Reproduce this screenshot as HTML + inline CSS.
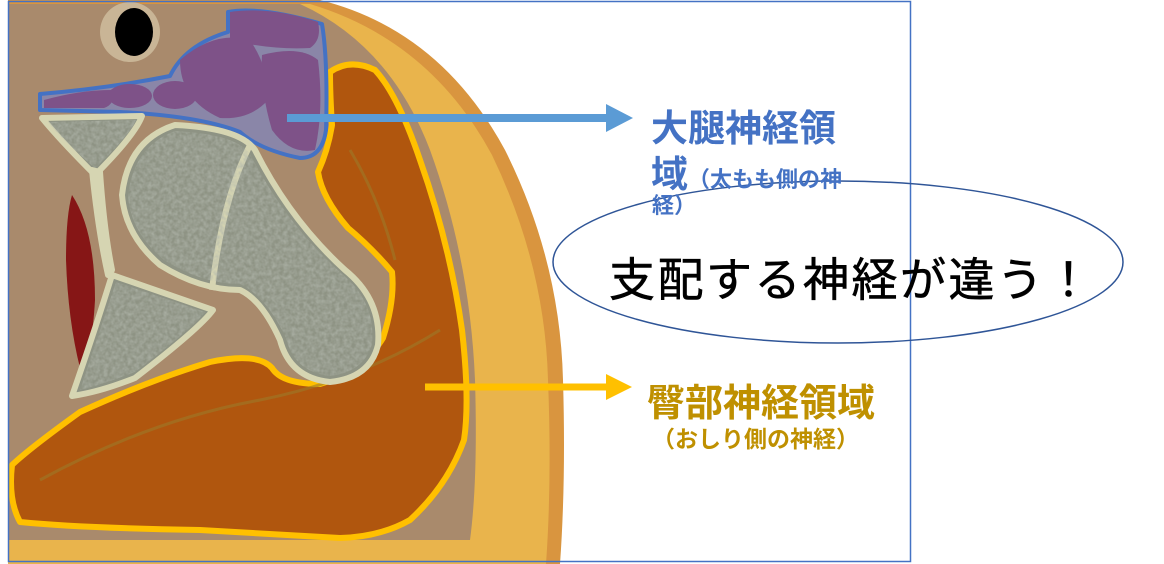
<!DOCTYPE html>
<html><head><meta charset="utf-8"><style>
html,body{margin:0;padding:0;background:#fff;}
body{width:1164px;height:564px;overflow:hidden;position:relative;font-family:"Liberation Sans","Noto Sans CJK JP",sans-serif;}
.t{position:absolute;white-space:nowrap;font-weight:bold;}
</style></head><body>
<svg width="1164" height="564" style="position:absolute;left:0;top:0">
<defs>
<filter id="n" x="0" y="0" width="100%" height="100%"><feTurbulence type="fractalNoise" baseFrequency="0.25" numOctaves="2" seed="3"/><feColorMatrix values="0 0 0 0 0.45  0 0 0 0 0.48  0 0 0 0 0.42  0 0 0 -1.6 1.2"/><feComposite in2="SourceGraphic" operator="in"/></filter>
</defs>
<path d="M8,0 L320,0 Q440,30 505,150 Q560,260 563,380 Q566,480 560,564 L8,564 Z" fill="#D9953F"/>
<path d="M8,4 L310,4 Q430,40 492,155 Q545,265 548,380 Q552,480 546,564 L8,564 Z" fill="#E9B44C"/>
<path d="M8,4 L300,4 Q390,45 430,150 Q470,260 475,380 Q478,480 470,540 L8,540 Z" fill="#A98A6C"/>
<ellipse cx="130" cy="32" rx="30" ry="30" fill="#C9B596"/>
<ellipse cx="134" cy="32" rx="19" ry="24" fill="#000"/>
<path d="M72,195 Q95,230 95,300 Q92,355 80,368 Q68,320 66,260 Q66,215 72,195 Z" fill="#861616"/>
<path d="M330,72 Q350,58 375,70 Q398,95 420,160 Q450,245 462,330 Q470,400 464,440 Q448,485 410,520 Q380,537 340,538 L200,530 Q80,528 20,522 Q8,500 12,465 Q30,448 80,412 Q150,380 210,362 Q258,352 272,368 Q282,384 320,384 Q362,372 383,338 Q395,300 392,272 Q372,248 348,228 Q322,198 318,172 Q328,150 332,125 Q330,95 330,72 Z" fill="#B0560E" stroke="#FFC000" stroke-width="6" stroke-linejoin="round"/>
<path d="M40,480 Q150,420 260,400 Q360,380 440,330" fill="none" stroke="#9C7A2A" stroke-width="3" opacity=".6"/>
<path d="M350,150 Q380,200 395,260" fill="none" stroke="#9C7A2A" stroke-width="3" opacity=".6"/>
<path d="M40,94 Q110,88 170,76 Q185,45 228,32 L228,12 Q260,6 322,24 Q328,60 326,130 Q322,158 300,158 Q260,150 240,132 Q200,116 120,112 L40,110 Z" fill="#8A86A8" stroke="#4472C4" stroke-width="4" stroke-linejoin="round"/>
<path d="M230,12 Q270,6 318,22 Q322,40 310,48 Q270,50 230,40 Z" fill="#7E5288"/>
<path d="M180,60 Q215,30 250,40 Q270,70 268,100 Q250,120 220,118 Q180,100 180,60 Z" fill="#7E5288"/>
<path d="M262,55 Q300,45 318,60 Q324,110 315,150 Q290,155 272,130 Q260,90 262,55 Z" fill="#7E5288"/>
<ellipse cx="175" cy="95" rx="22" ry="14" fill="#7E5288"/>
<ellipse cx="130" cy="96" rx="22" ry="12" fill="#7E5288"/>
<path d="M44,100 Q80,90 112,90 Q116,104 104,108 L44,108 Z" fill="#7E5288"/>
<g stroke="#D6D5B2" stroke-width="6" stroke-linejoin="round">
<path d="M42,118 L142,116 Q135,135 95,175 Q60,140 42,118 Z" fill="#8E9384"/>
<path d="M92,170 L100,172 Q104,230 112,270 L108,275 Q98,230 92,170 Z" fill="#D6D5B2"/>
<path d="M112,275 L213,310 Q200,328 135,378 Q100,392 72,396 Q95,330 112,275 Z" fill="#8E9384"/>
<path d="M175,125 Q240,128 255,150 Q290,220 345,270 Q382,300 378,345 Q370,378 330,382 Q290,378 280,340 Q262,300 240,290 Q200,290 160,265 Q125,235 122,195 Q128,140 175,125 Z" fill="#8E9384"/>
<path d="M250,145 Q222,200 212,290" fill="none"/>
</g>
<g filter="url(#n)" opacity=".7">
<path d="M48,122 L136,120 Q130,135 95,168 Q62,140 48,122 Z" fill="#fff"/>
<path d="M116,282 L205,312 Q195,326 135,372 Q104,384 80,390 Q100,330 116,282 Z" fill="#fff"/>
<path d="M175,131 Q236,134 250,154 Q286,224 342,274 Q376,302 372,344 Q364,372 330,376 Q294,372 286,338 Q266,296 240,284 Q202,284 164,260 Q130,232 128,195 Q134,146 175,131 Z" fill="#fff"/>
</g>
<line x1="287" y1="118" x2="608" y2="118" stroke="#5B9BD5" stroke-width="8"/>
<polygon points="606,104 633,118 606,132" fill="#5B9BD5"/>
<line x1="425" y1="387" x2="608" y2="387" stroke="#FFC000" stroke-width="7"/>
<polygon points="606,374 632,387 606,400" fill="#FFC000"/>
<rect x="8.5" y="1.5" width="902" height="560" fill="none" stroke="#4472C4" stroke-width="1.5"/>
<ellipse cx="838" cy="262" rx="285" ry="81" fill="none" stroke="#2F5597" stroke-width="1.5"/>
</svg>
<div class="t" style="left:651px;top:98px;font-size:37px;color:#4472C4;">大腿神経領</div>
<div class="t" style="left:651px;top:144px;font-size:37px;color:#4472C4;">域<span style="font-size:22px;">（太もも側の神</span></div>
<div class="t" style="left:652px;top:188px;font-size:22px;color:#4472C4;">経）</div>
<div class="t" style="left:609px;top:244px;font-size:46px;font-weight:normal;color:#000;letter-spacing:2.5px;-webkit-text-stroke:0.6px #000;">支配する神経が違う！</div>
<div class="t" style="left:647px;top:372px;font-size:38px;color:#BF9000;">臀部神経領域</div>
<div class="t" style="left:652px;top:420px;font-size:23px;color:#BF9000;">（おしり側の神経）</div>
</body></html>
